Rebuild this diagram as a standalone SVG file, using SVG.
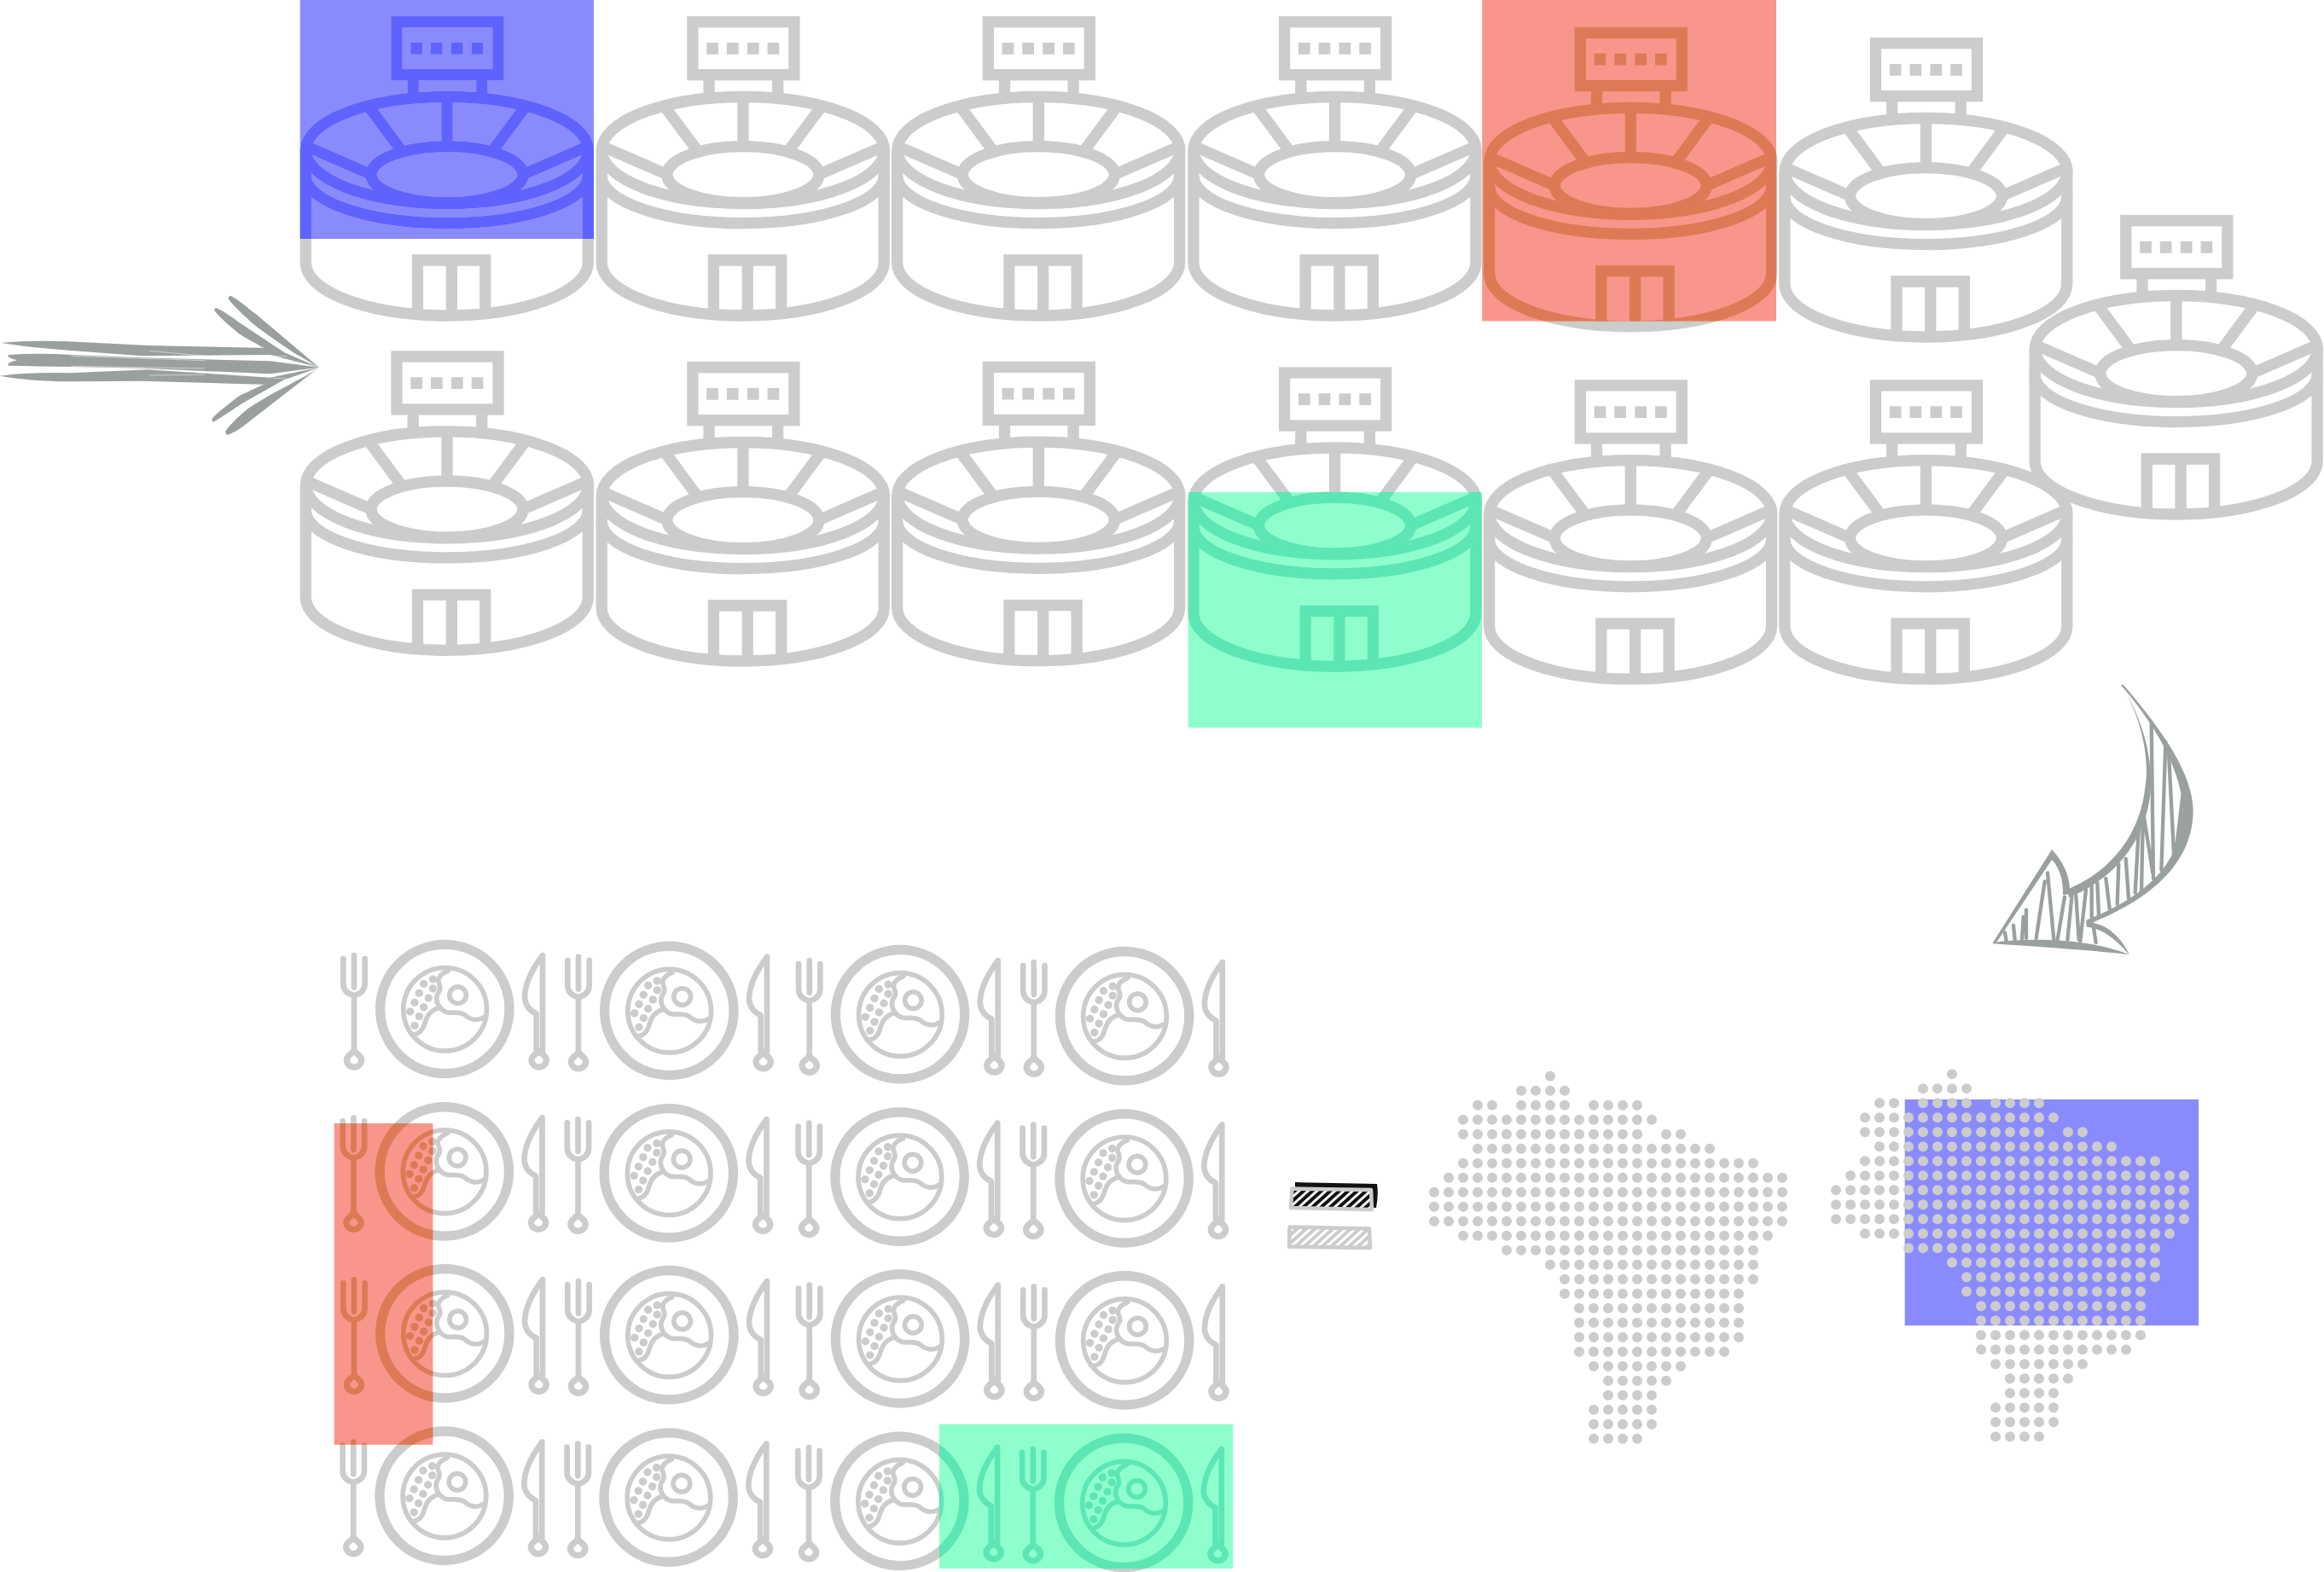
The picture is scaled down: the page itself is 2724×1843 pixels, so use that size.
<svg xmlns="http://www.w3.org/2000/svg" xmlns:xlink="http://www.w3.org/1999/xlink" width="2724" height="1843" viewBox="0 0 2724 1843">
<style>
.st{fill:none;stroke:currentColor;stroke-width:13.3}
.sd{fill:currentColor;stroke:none}
.pl{fill:none;stroke:currentColor;stroke-linecap:round;stroke-linejoin:round}
.pd{fill:currentColor;stroke:none}
.ic{color:#cccccc}
.ab{fill:#9aa0a0;stroke:none}
.al{fill:none;stroke:#9aa0a0;stroke-linecap:round;stroke-linejoin:round}
.dots{fill:none;stroke:#cccccc;stroke-width:12;stroke-linecap:round;stroke-dasharray:0 17}
</style>
<defs>
<g id="stadium">
<rect class="st" x="465" y="25.7" width="119" height="62"/>
<path class="sd" d="M481.3 50h13.7v13.7h-13.7zM505 50h13.7v13.7h-13.7zM529 50h13.7v13.7h-13.7zM552.7 50h13.7v13.7h-13.7z"/>
<path class="st" d="M484.2 94V110M564.8 94V110"/>
<ellipse class="st" cx="524" cy="176" rx="165.5" ry="62.5"/>
<ellipse class="st" cx="524" cy="204.7" rx="89" ry="33"/>
<path class="st" d="M358.3 176V308A165.5 62 0 0 0 689.3 308V176"/>
<path class="st" d="M358.3 206A165.5 55.6 0 0 0 689.3 206"/>
<path class="st" d="M524 113V174M430 122L473 180M618 122L575 180M360 172L436 205M688 172L612 205"/>
<path class="st" d="M489.5 369V305H568.8V369M529.3 305V370"/>
</g>
<g id="plate" transform="translate(390 1090) scale(.33333)">
<circle class="pl" cx="394" cy="279" r="227" stroke-width="34"/>
<circle class="pl" cx="395" cy="280" r="146.5" stroke-width="17"/>
<circle class="pl" cx="440" cy="230" r="29.5" stroke-width="17"/>
<path class="pl" stroke-width="17" d="M405 145C380 155 368 170 372 185C380 205 380 210 368 228C360 250 372 280 400 290C420 296 440 284 465 300C485 318 510 322 532 308"/>
<path class="pl" stroke-width="17" d="M372 275C340 285 330 305 322 335C315 355 305 365 288 368"/>
<path class="pd" d="M352 160a14 14 0 1 0 .01 0zM320 176a14 14 0 1 0 .01 0zM352 193a14 14 0 1 0 .01 0zM304 209a14 14 0 1 0 .01 0zM337 226a14 14 0 1 0 .01 0zM288 242a14 14 0 1 0 .01 0zM320 258a14 14 0 1 0 .01 0zM272 274a14 14 0 1 0 .01 0zM304 291a14 14 0 1 0 .01 0zM288 323a14 14 0 1 0 .01 0z"/>
<path class="pl" stroke-width="20" d="M37 102V190Q37 222 75 232Q113 222 113 190V102M75 90V203"/>
<path class="pl" stroke-width="10" d="M70 235V425M80 235V425"/>
<path class="pl" stroke-width="22" d="M75 425C68 438 49 442 49 458A26 25 0 0 0 101 458C101 442 82 438 75 425Z"/>
<path class="pl" stroke-width="20" d="M738 90C700 140 675 190 675 240Q680 280 716 295V425M738 90V425"/>
<path class="pl" stroke-width="22" d="M725 425C718 438 699 442 699 458A26 25 0 0 0 751 458C751 442 732 438 725 425Z"/>
</g>
<g id="brazil">
<path class="dots" d="M136 0h.1M102 17H153.1M51 34H68.1M102 34H153.1M187 34H238.1M34 51H255.1M34 68H238.1M272 68H289.1M51 85H323.1M34 102H374.1M17 119H408.1M0 136H408.1M0 153H408.1M0 170H408.1M34 187H391.1M85 204H374.1M136 221H374.1M153 238H374.1M153 255H357.1M170 272H357.1M170 289H357.1M170 306H357.1M170 323H340.1M187 340H289.1M204 357H272.1M204 374H255.1M187 391H255.1M187 408H255.1M187 425H238.1"/>
</g>
<clipPath id="cb"><rect x="351.7" y="0" width="344.3" height="280"/></clipPath>
<clipPath id="cr"><rect x="1737.2" y="0" width="344.8" height="376.4"/></clipPath>
<clipPath id="cg"><rect x="1392.7" y="577" width="344.3" height="276"/></clipPath>
<clipPath id="cpr"><rect x="391.7" y="1317" width="115.7" height="376.8"/></clipPath>
<clipPath id="cpg"><rect x="1101" y="1669.8" width="344.4" height="169.2"/></clipPath>
<pattern id="hk" width="7" height="7" patternUnits="userSpaceOnUse" patternTransform="rotate(-42)"><rect width="7" height="7" fill="#fff"/><rect width="7" height="4" fill="#111"/></pattern>
<pattern id="hg" width="7" height="7" patternUnits="userSpaceOnUse" patternTransform="rotate(-42)"><rect width="7" height="7" fill="#fff"/><rect width="7" height="4" fill="#ccc"/></pattern>
</defs>

<g id="stadium-a1"><rect x="351.7" y="0" width="344.3" height="280" fill="#8a8aff"/><use href="#stadium" class="ic"/><g clip-path="url(#cb)"><use href="#stadium" style="color:#5f62ff"/></g></g>
<g id="stadium-a2"><use href="#stadium" class="ic" transform="translate(346.9 0)"/></g>
<g id="stadium-a3"><use href="#stadium" class="ic" transform="translate(693.3 0)"/></g>
<g id="stadium-a4"><use href="#stadium" class="ic" transform="translate(1040.6 0)"/></g>
<g id="stadium-a5"><use href="#stadium" class="ic" transform="translate(1387.3 12.8)"/><rect x="1737.2" y="0" width="344.8" height="376.4" fill="#f9968b"/><g clip-path="url(#cr)"><use href="#stadium" style="color:#dd7a55" transform="translate(1387.3 12.8)"/></g></g>
<g id="stadium-a6"><use href="#stadium" class="ic" transform="translate(1733.5 25)"/></g>
<g id="stadium-c"><use href="#stadium" class="ic" transform="translate(2026.8 233)"/></g>
<g id="stadium-b1"><use href="#stadium" class="ic" transform="translate(0 392.3)"/></g>
<g id="stadium-b2"><use href="#stadium" class="ic" transform="translate(346.9 405)"/></g>
<g id="stadium-b3"><use href="#stadium" class="ic" transform="translate(693.3 404.7)"/></g>
<g id="stadium-b4"><use href="#stadium" class="ic" transform="translate(1040.6 411.3)"/><rect x="1392.7" y="577" width="344.3" height="276" fill="#8effcc"/><g clip-path="url(#cg)"><use href="#stadium" style="color:#5ce6b3" transform="translate(1040.6 411.3)"/></g></g>
<g id="stadium-b5"><use href="#stadium" class="ic" transform="translate(1387.3 426.2)"/></g>
<g id="stadium-b6"><use href="#stadium" class="ic" transform="translate(1733.5 426.2)"/></g>

<g id="plates-row1">
<g id="plate-1-1"><use href="#plate" class="ic"/></g>
<g id="plate-1-2"><use href="#plate" class="ic" transform="translate(263 1.9)"/></g>
<g id="plate-1-3"><use href="#plate" class="ic" transform="translate(533.7 6.2)"/></g>
<g id="plate-1-4"><use href="#plate" class="ic" transform="translate(796.8 8.2)"/></g>
</g>
<g id="plates-row2">
<g id="plate-2-1"><use href="#plate" class="ic" transform="translate(-.5 190.4)"/></g>
<g id="plate-2-2"><use href="#plate" class="ic" transform="translate(262.5 192.3)"/></g>
<g id="plate-2-3"><use href="#plate" class="ic" transform="translate(533.2 196.6)"/></g>
<g id="plate-2-4"><use href="#plate" class="ic" transform="translate(796.3 198.5)"/></g>
</g>
<g id="plates-row3">
<g id="plate-3-1"><use href="#plate" class="ic" transform="translate(0 380.3)"/></g>
<g id="plate-3-2"><use href="#plate" class="ic" transform="translate(263 382.2)"/></g>
<g id="plate-3-3"><use href="#plate" class="ic" transform="translate(533.7 386.5)"/></g>
<g id="plate-3-4"><use href="#plate" class="ic" transform="translate(796.8 388.4)"/></g>
</g>
<g id="plates-row4">
<g id="plate-4-1"><use href="#plate" class="ic" transform="translate(-.7 570.7)"/></g>
<g id="plate-4-2"><use href="#plate" class="ic" transform="translate(262.3 572.6)"/></g>
<g id="plate-4-3"><use href="#plate" class="ic" transform="translate(533 576.9)"/></g>
<g id="plate-4-4"><use href="#plate" class="ic" transform="translate(795.8 578.8)"/></g>
</g>
<g id="highlight-red">
<rect x="391.7" y="1317" width="115.7" height="376.8" fill="#f9968b"/>
<g clip-path="url(#cpr)" style="color:#dd7a55"><use href="#plate" transform="translate(-.5 190.4)"/><use href="#plate" transform="translate(0 380.3)"/><use href="#plate" transform="translate(-.7 570.7)"/></g>
</g>
<g id="highlight-green">
<rect x="1101" y="1669.8" width="344.4" height="169.2" fill="#8effcc"/>
<g clip-path="url(#cpg)" style="color:#5ce6b3"><use href="#plate" transform="translate(533 576.9)"/><use href="#plate" transform="translate(795.8 578.8)"/></g>
</g>

<g id="legend">
<path d="M1518 1386L1614 1388Q1616 1400 1613 1416L1518 1412Z" fill="#111"/>
<path d="M1514.5 1393.5L1607 1395L1608 1418L1513 1416Z" fill="url(#hk)" stroke="#ccc" stroke-width="4.5" stroke-linejoin="round"/>
<path d="M1511.5 1438.5L1605 1440.5L1606 1463L1511 1461.5Z" fill="url(#hg)" stroke="#ccc" stroke-width="4.5" stroke-linejoin="round"/>
</g>

<g id="brazil-a"><use href="#brazil" transform="translate(1681 1261.67)"/></g>
<g id="brazil-b"><rect x="2232.7" y="1289" width="344.3" height="265" fill="#8a8aff"/><use href="#brazil" transform="translate(2152 1259.33)"/></g>

<g id="connectors">
<g id="arrow-straight" transform="translate(0 330) scale(.33333)">
<path class="ab" d="M5 216Q100 206 240 211L520 225L950 234L1122 302L950 258L500 262L250 243Q100 232 5 216Z"/>
<path class="ab" d="M30 258Q130 250 250 258L500 268L950 280L1122 302L950 325L500 305L250 300Q130 298 30 296Q20 286 60 277Q20 268 30 258Z"/>
<path class="ab" d="M0 332Q100 318 250 322L520 310L950 338L1122 302L950 363L500 350L250 352Q100 350 0 332Z"/>
<path class="ab" d="M812 50C840 65 880 100 900 115L1122 302C1090 285 1060 265 1040 255C980 215 920 175 880 140C850 112 815 80 803 60Q803 52 812 50Z"/>
<path class="ab" d="M760 93C790 105 820 130 850 150L1000 250L1122 302L920 230C880 205 850 195 830 175C800 150 770 125 753 100Q754 94 760 93Z"/>
<path class="ab" d="M800 540C840 525 860 505 880 490L1122 302C1090 325 1060 340 1040 350C980 385 920 410 880 440C850 465 810 500 792 528Q793 538 800 540Z"/>
<path class="ab" d="M750 495C790 470 820 450 850 430L1000 345L1122 302L920 365C880 385 850 395 830 410C800 435 765 460 745 482Q745 492 750 495Z"/>
<path d="M812 98L1010 238M800 490L1010 360" fill="none" stroke="#fff" stroke-width="3" stroke-linecap="round"/>
<path d="M525 244L720 262M525 330L720 328M250 262L720 278M250 298L720 306M960 262L1010 264M960 340L1010 342" fill="none" stroke="#fff" stroke-width="1.5"/>
</g>
<g id="arrow-curved" transform="translate(2320 790) scale(.33333)">
<path class="ab" d="M498 40L506 38C620 170 750 340 752 480C752 640 640 780 380 882L376 866C620 770 714 640 716 480C711 340 620 180 498 40Z"/>
<path class="ab" d="M498 40C570 150 600 300 583 400C563 580 450 700 310 758L315 787C470 722 592 590 603 400C608 280 570 150 498 40Z"/>
<path class="ab" d="M255 618C290 655 322 710 318 775L294 778C295 720 280 680 255 654L60 945L48 945Z"/>
<path class="ab" d="M48 945C200 925 400 935 528 988C400 972 200 960 48 949Z"/>
<path class="ab" d="M375 873C450 875 500 930 528 988C480 935 440 898 378 890Z"/>
<path class="al" stroke-width="13" d="M605 170L612 720M655 240L640 690M665 260L685 650M715 430L690 640M725 470L700 610M580 510L610 700M560 550L548 770M575 520L570 770M515 650L525 790M490 670L485 810M445 720L458 825M415 735L420 850M395 745L395 855M375 760L355 940M340 780L350 935M325 785L310 935M300 785L275 935M240 700L262 935M230 730L200 930M165 830L165 930M155 855L150 935M120 885L125 935M90 910L95 940M400 880L410 945"/>
</g>
</g>
</svg>
